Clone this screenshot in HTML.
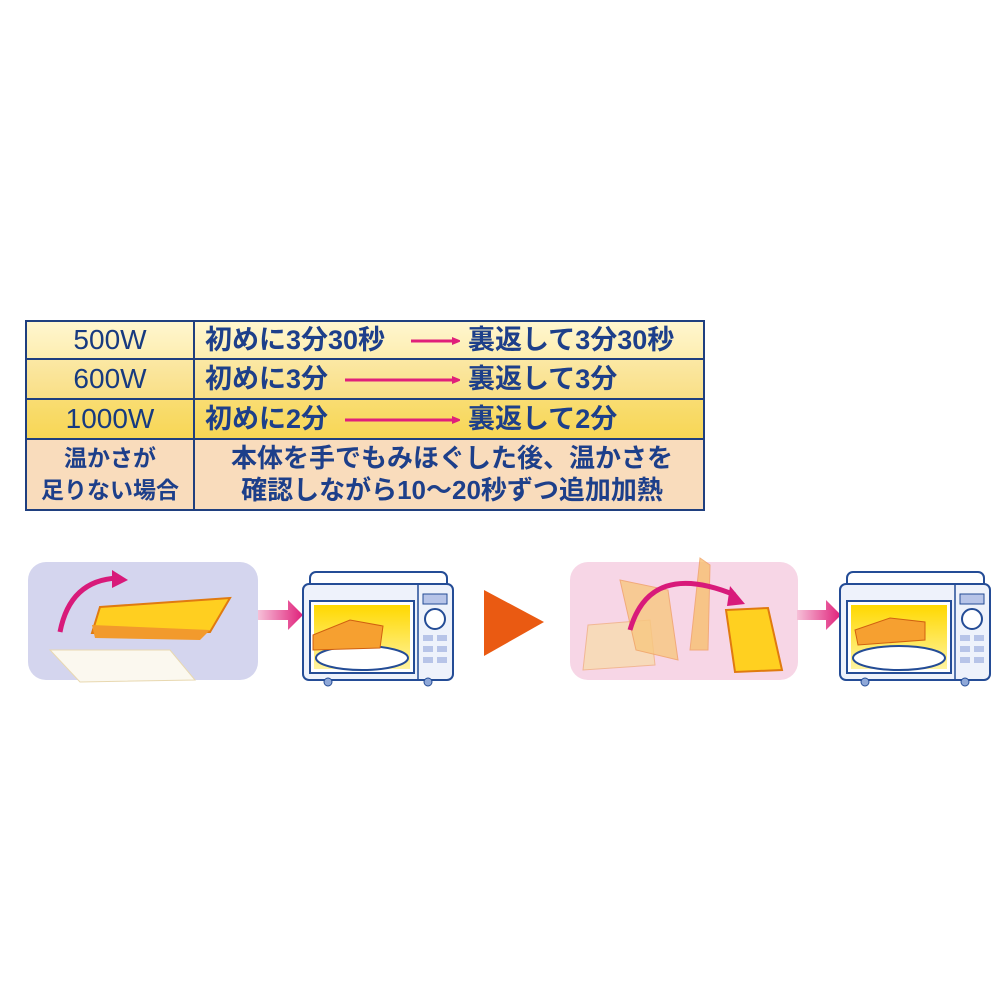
<!DOCTYPE html>
<html><head><meta charset="utf-8"><style>
html,body{margin:0;padding:0;background:#fff;width:1000px;height:1000px;overflow:hidden}
.t{position:absolute;left:25px;top:320px;width:680px;height:191px;border:2px solid #1f3f7f;box-sizing:border-box;font-family:"Liberation Sans","Noto Sans CJK JP",sans-serif;font-weight:bold;color:#1d3f8a;overflow:hidden}
.r{position:absolute;left:0;width:100%;border-bottom:2px solid #1f3f7f;box-sizing:border-box}
.c1{position:absolute;left:0;top:0;width:166px;text-align:center;font-size:28px;font-weight:normal;line-height:36px;color:#173a80}
.c2{position:absolute;left:178px;top:0;font-size:27px;white-space:nowrap;line-height:36px}
.v{position:absolute;left:166px;top:0;width:2px;height:100%;background:#1f3f7f}
</style></head><body>
<div class="t">
 <div class="r" style="top:0;height:38px;background:linear-gradient(#fff6cf,#fdeeb0)"><div class="c1">500W</div><div class="c2">初めに3分30秒</div><div class="c2" style="left:441px">裏返して3分30秒</div></div>
 <div class="r" style="top:38px;height:40px;background:linear-gradient(#fbe8a4,#f9df86)"><div class="c1" style="line-height:38px">600W</div><div class="c2" style="line-height:38px">初めに3分</div><div class="c2" style="left:441px;line-height:38px">裏返して3分</div></div>
 <div class="r" style="top:78px;height:40px;background:linear-gradient(#f9dd72,#f7d655)"><div class="c1" style="line-height:38px">1000W</div><div class="c2" style="line-height:38px">初めに2分</div><div class="c2" style="left:441px;line-height:38px">裏返して2分</div></div>
 <div class="r" style="top:118px;height:69px;border:none;background:#f9dcbc"><div class="c1" style="top:2px;font-size:23px;font-weight:bold;line-height:32px;color:#1d3f8a">温かさが<br>足りない場合</div><div class="c2" style="left:170px;top:2px;font-size:26px;line-height:32px;width:510px;text-align:center">本体を手でもみほぐした後、温かさを<br>確認しながら10～20秒ずつ追加加熱</div></div>
 <div class="v"></div>
</div>
<svg width="1000" height="1000" style="position:absolute;left:0;top:0">
<defs>
<marker id="ah" markerWidth="8" markerHeight="8" refX="6" refY="4" orient="auto" markerUnits="userSpaceOnUse"><path d="M0,0 L10,4 L0,8z" fill="#e0207a"/></marker>
<linearGradient id="ya" x1="0" y1="0" x2="0" y2="1"><stop offset="0" stop-color="#ffd800"/><stop offset="1" stop-color="#fff4a0"/></linearGradient>
<linearGradient id="pa" x1="0" y1="0" x2="1" y2="0"><stop offset="0" stop-color="#f6c0d8"/><stop offset="1" stop-color="#e0207a"/></linearGradient>
<g id="mw">
 <rect x="7" y="0" width="137" height="20" rx="6" fill="#fff" stroke="#244c96" stroke-width="2"/>
 <rect x="0" y="12" width="150" height="96" rx="6" fill="#eef2fb" stroke="#244c96" stroke-width="2"/>
 <circle cx="25" cy="110" r="4" fill="#8fa8d8" stroke="#244c96"/><circle cx="125" cy="110" r="4" fill="#8fa8d8" stroke="#244c96"/>
 <rect x="7" y="29" width="104" height="72" fill="#fff" stroke="#244c96" stroke-width="2"/>
 <rect x="11" y="33" width="96" height="64" fill="url(#ya)"/>
 <ellipse cx="59" cy="86" rx="46" ry="12" fill="#fff" stroke="#244c96" stroke-width="2"/>
 <line x1="115" y1="12" x2="115" y2="108" stroke="#244c96" stroke-width="1.5"/>
 <rect x="120" y="22" width="24" height="10" fill="#b7c4e8" stroke="#244c96"/>
 <circle cx="132" cy="47" r="10" fill="#fff" stroke="#244c96" stroke-width="2"/>
 <g fill="#b7c4e8"><rect x="120" y="63" width="10" height="6"/><rect x="134" y="63" width="10" height="6"/><rect x="120" y="74" width="10" height="6"/><rect x="134" y="74" width="10" height="6"/><rect x="120" y="85" width="10" height="6"/><rect x="134" y="85" width="10" height="6"/></g>
</g>
</defs>
<line x1="411" y1="341" x2="458" y2="341" stroke="#e0207a" stroke-width="3" marker-end="url(#ah)"/>
<line x1="345" y1="380" x2="458" y2="380" stroke="#e0207a" stroke-width="3" marker-end="url(#ah)"/>
<line x1="345" y1="420" x2="458" y2="420" stroke="#e0207a" stroke-width="3" marker-end="url(#ah)"/>

<rect x="28" y="562" width="230" height="118" rx="18" fill="#d4d5ee"/>
<path d="M50,650 L170,650 L195,680 L80,682 Z" fill="#fbf8ef" stroke="#e8d8b0"/>
<path d="M100,607 L230,598 L210,632 L92,633 Z" fill="#ffcf20" stroke="#e07a10" stroke-width="2"/>
<path d="M92,625 L210,630 L200,640 L95,638 Z" fill="#f29a2c"/>
<path d="M60,632 Q70,580 118,578" stroke="#d81a7a" stroke-width="5" fill="none"/>
<path d="M112,570 L128,580 L112,588 Z" fill="#d81a7a"/>
<path d="M258,610 L288,610 L288,600 L303,615 L288,630 L288,620 L258,620 Z" fill="url(#pa)"/>
<use href="#mw" x="303" y="572"/>
<path d="M313,635 L350,620 L383,626 L380,648 L313,650 Z" fill="#f6a030" stroke="#d06010"/>
<path d="M484,590 L544,622 L484,656 Z" fill="#ea5a12"/>

<rect x="570" y="562" width="228" height="118" rx="18" fill="#f7d6e6"/>
<path d="M588,625 L650,620 L655,665 L583,670 Z" fill="#f8dcb0" stroke="#f0b080" opacity=".8"/>
<path d="M620,580 L668,590 L678,660 L636,650 Z" fill="#f8c880" stroke="#f0a060" opacity=".8"/>
<path d="M700,558 L710,565 L708,650 L690,650 Z" fill="#f8c070" stroke="#f0a060" opacity=".8"/>
<path d="M726,610 L768,608 L782,670 L735,672 Z" fill="#ffd020" stroke="#e07a10" stroke-width="2"/>
<path d="M630,630 Q650,560 735,595" stroke="#d81a7a" stroke-width="5" fill="none"/>
<path d="M730,586 L745,604 L727,606 Z" fill="#d81a7a"/>
<path d="M797,610 L826,610 L826,600 L841,615 L826,630 L826,620 L797,620 Z" fill="url(#pa)"/>
<use href="#mw" x="840" y="572"/>
<path d="M855,630 L890,618 L925,622 L925,640 L858,645 Z" fill="#f6a030" stroke="#d06010"/>
</svg>
</body></html>
